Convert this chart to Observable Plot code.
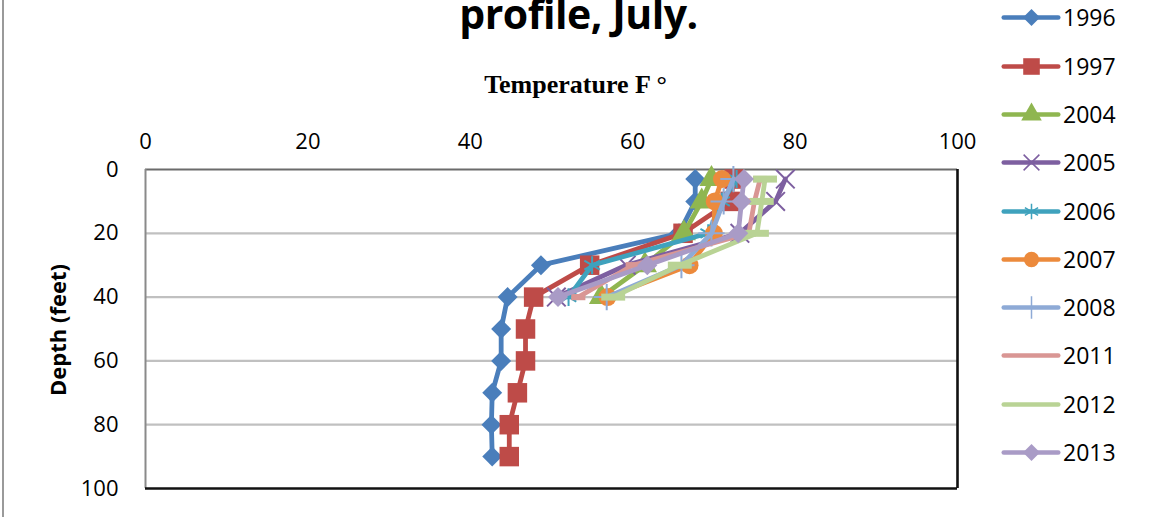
<!DOCTYPE html>
<html>
<head>
<meta charset="utf-8">
<script src="https://cdn.jsdelivr.net/npm/d3@7"></script>
<script src="https://cdn.jsdelivr.net/npm/@observablehq/plot@0.6"></script>
<style>
  html, body { margin: 0; padding: 0; background: #fff; }
  #wrap { position: relative; width: 1151px; height: 517px; overflow: hidden; font-family: "Open Sans", "Noto Sans", sans-serif; }
  #border { position: absolute; left: 2px; top: -2px; width: 1160px; height: 530px; border-left: 2px solid #9a9a9a; box-sizing: border-box; }
  #title { position: absolute; left: 0; width: 1151px; top: -11px; text-align: center; font-family: "Open Sans", sans-serif; font-weight: 700; font-size: 41px; letter-spacing: -0.5px; padding-left: 3px; line-height: 1.2; }
  #xlabel { position: absolute; left: 0; width: 1151px; top: 69px; text-align: center; font-family: "Liberation Serif", "DejaVu Serif", serif; font-weight: 700; font-size: 26px; padding-right: 11px; line-height: 1.2; }
  #ylabel { position: absolute; left: 57px; top: 330px; transform: translate(-50%, -50%) rotate(-90deg); font-family: "Open Sans", sans-serif; font-weight: 700; font-size: 22px; white-space: nowrap; }
  #legend { position: absolute; left: 1000px; top: 0; width: 151px; height: 517px; }
  .lg { position: absolute; left: 0; width: 160px; height: 30px; display: flex; align-items: center; font-family: "Open Sans", sans-serif; font-size: 23px; color: #000; white-space: nowrap; }
  .lg svg { flex: none; max-width: none; margin-right: 1px; }
</style>
</head>
<body>
<div id="wrap">
  <div id="chart"></div>
  <div id="border"></div>
  <div id="title">profile, July.</div>
  <div id="xlabel">Temperature F °</div>
  <div id="ylabel">Depth (feet)</div>
  <div id="legend"></div>
</div>
<script>
// ---- data ----
const years = ["1996", "1997", "2004", "2005", "2006", "2007", "2008", "2011", "2012", "2013"];
const depths = [3, 10, 20, 30, 40, 50, 60, 70, 80, 90];
const t1996 = [67.7, 67.7, 65.7, 48.7, 44.6, 43.8, 43.8, 42.7, 42.6, 42.7];
const t1997 = [72.5, 72.0, 66.2, 54.7, 47.8, 46.8, 46.8, 45.8, 44.8, 44.8];
const t2004 = [69.7, 68.5, 66.3, 61.5, 56.1];
const t2005 = [78.8, 77.6, 73.2, 59.2, 50.6];
const t2006 = [72.8, 71.0, 69.3, 55.0, 52.1];
const t2007 = [71.0, 70.1, 70.0, 67.0, 56.9];
const t2008 = [72.4, 71.2, 69.7, 66.0, 56.8];
const t2011 = [75.7, 75.0, 74.3, 60.0, 53.3];
const t2012 = [76.3, 75.9, 75.3, 65.8, 57.6];
const t2013 = [73.7, 73.4, 73.0, 61.8, 50.8];
const xTicks = [0, 20, 40, 60, 80, 100];
const yTicks = [0, 20, 40, 60, 80, 100];

const seriesValues = [t1996, t1997, t2004, t2005, t2006, t2007, t2008, t2011, t2012, t2013];

// ---- styles ----
const colors = ["#4a7ebb", "#be4b48", "#8fb650", "#7d5fa0", "#3fa2bd", "#ec8a3c", "#8eaad6", "#d99694", "#b9d395", "#a99bc6"];
function dashSymbol(w) {
  return { draw(ctx, size) { const h = Math.sqrt(size) * 0.22; const hw = Math.sqrt(size) * w; ctx.moveTo(-hw, -h); ctx.lineTo(hw, -h); ctx.lineTo(hw, h); ctx.lineTo(-hw, h); ctx.closePath(); } };
}
const markers = [
  { symbol: "diamond2", r: 9, fill: true },
  { symbol: "square", r: 11, fill: true },
  { symbol: "triangle", r: 9, fill: true },
  { symbol: "times", r: 8.5, fill: false },
  { symbol: "asterisk", r: 8.5, fill: false },
  { symbol: "circle", r: 9, fill: true },
  { symbol: "plus", r: 8.5, fill: false },
  { symbol: dashSymbol(0.5), r: 8, fill: true },
  { symbol: dashSymbol(0.75), r: 9, fill: true },
  { symbol: "diamond2", r: 9, fill: true }
];

const rows = [];
years.forEach((y, i) => seriesValues[i].forEach((v, j) => rows.push({ year: y, idx: i, temp: v, depth: depths[j] })));

const marks = [
  Plot.ruleY([20, 40, 60, 80], { stroke: "#c0c0c0", strokeWidth: 2.2 }),
  Plot.ruleY([0], { stroke: "#6b6b6b", strokeWidth: 2.2 }),
  Plot.ruleX([0], { stroke: "#8a8a8a", strokeWidth: 2 }),
  Plot.ruleY([100], { stroke: "#111", strokeWidth: 2.6 }),
  Plot.ruleX([100], { stroke: "#111", strokeWidth: 2.6 }),
  Plot.axisX({ anchor: "top", ticks: xTicks, tickSize: 0, tickPadding: 21, label: null, tickFormat: d => String(d) }),
  Plot.axisY({ anchor: "left", ticks: yTicks, tickSize: 0, tickPadding: 27, label: null, tickFormat: d => String(d) })
];
years.forEach((y, i) => {
  const d = rows.filter(r => r.idx === i);
  const c = colors[i];
  const m = markers[i];
  marks.push(Plot.line(d, { x: "temp", y: "depth", stroke: c, strokeWidth: 4.8, strokeLinejoin: "round", strokeLinecap: "round" }));
  marks.push(Plot.dot(d, {
    x: "temp", y: "depth", symbol: () => m.symbol, r: m.r,
    fill: m.fill ? c : "none", stroke: c, strokeWidth: m.fill ? 0 : 2
  }));
});

const chart = Plot.plot({
  width: 1151, height: 517,
  marginLeft: 145, marginRight: 194, marginTop: 169, marginBottom: 29,
  x: { domain: [0, 100], label: null },
  y: { domain: [0, 100], reverse: true, label: null },
  symbol: { type: "identity" },
  style: { fontFamily: "'Open Sans', 'Noto Sans', sans-serif", fontSize: "22px", color: "#000", background: "transparent", overflow: "visible" },
  marks
});
document.getElementById("chart").appendChild(chart);

// ---- legend ----
const legend = document.getElementById("legend");
const legendY = [17, 66, 114, 162, 211, 259, 307, 355, 404, 452];
years.forEach((y, i) => {
  const item = document.createElement("div");
  item.className = "lg";
  item.style.top = (legendY[i] - 15) + "px";
  const sw = Plot.plot({
    width: 62, height: 30, margin: 0,
    x: { domain: [0, 1], axis: null }, y: { domain: [0, 1], axis: null },
    symbol: { type: "identity" },
    style: { background: "transparent", overflow: "visible" },
    marks: [
      Plot.ruleY([0.5], { x1: 0.06, x2: 0.94, stroke: colors[i], strokeWidth: 4.5, strokeLinecap: "round" }),
      (i === 7 || i === 8) ? null : Plot.dot([0.5], { x: d => d, y: () => 0.5, symbol: () => markers[i].symbol, r: markers[i].r * 0.85, fill: markers[i].fill ? colors[i] : "none", stroke: colors[i], strokeWidth: markers[i].fill ? 0 : 1.5 })
    ]
  });
  item.appendChild(sw);
  const label = document.createElement("span");
  label.textContent = y;
  item.appendChild(label);
  legend.appendChild(item);
});
</script>
</body>
</html>
